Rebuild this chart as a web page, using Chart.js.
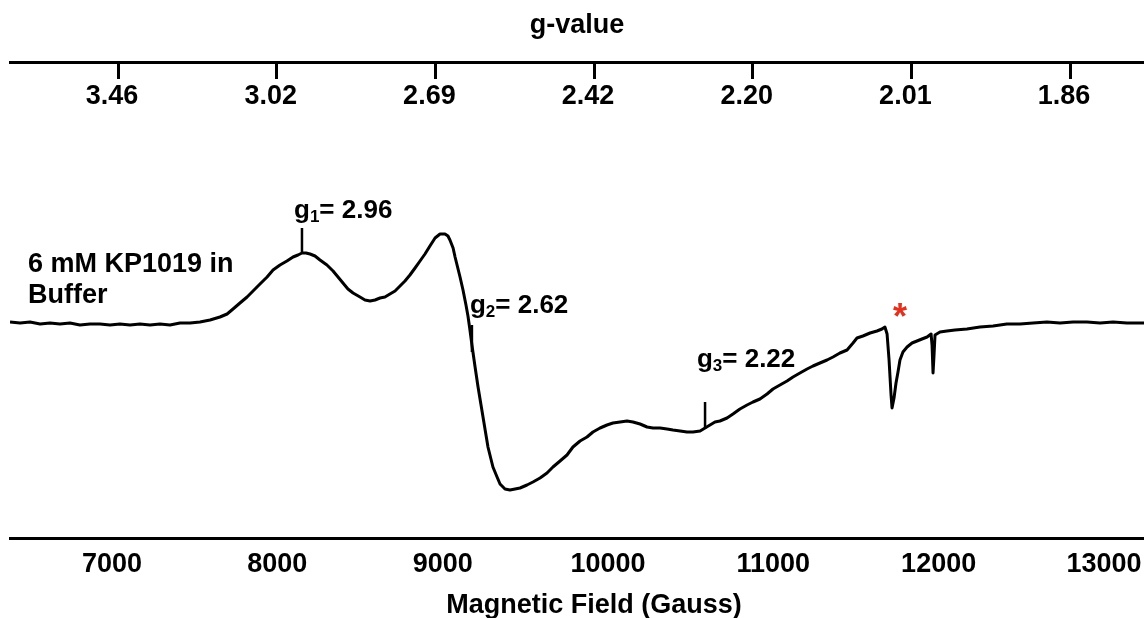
<!DOCTYPE html>
<html>
<head>
<meta charset="utf-8">
<title>EPR spectrum – KP1019</title>
<script src="https://cdn.jsdelivr.net/npm/chart.js@4/dist/chart.umd.min.js"></script>
<style>
  html, body { margin: 0; padding: 0; background: #fff; }
  canvas { display: block; }
</style>
</head>
<body>
<canvas id="epr" width="1144" height="618"></canvas>
<script>
// Magnetic field (G) and first-derivative EPR signal (arb. units)
const fieldGauss = [
  6383, 6444, 6504, 6565, 6625, 6685, 6746, 6806, 6867, 6927, 6988, 7048, 7109, 7169, 7230, 7290,
  7351, 7411, 7472, 7532, 7593, 7653, 7696, 7732, 7774, 7817, 7853, 7895, 7938, 7974, 8016, 8058,
  8095, 8125, 8149, 8173, 8198, 8228, 8258, 8300, 8337, 8367, 8397, 8427, 8458, 8500, 8530, 8561,
  8591, 8621, 8651, 8681, 8712, 8742, 8772, 8802, 8833, 8863, 8893, 8923, 8954, 8984, 9014, 9032,
  9044, 9063, 9075, 9087, 9105, 9123, 9141, 9153, 9165, 9177, 9196, 9214, 9232, 9244, 9262, 9274,
  9292, 9304, 9329, 9347, 9377, 9407, 9438, 9468, 9510, 9546, 9589, 9631, 9667, 9710, 9752, 9788,
  9831, 9873, 9909, 9952, 9994, 10030, 10073, 10115, 10151, 10194, 10236, 10272, 10315, 10357, 10393, 10436,
  10478, 10514, 10557, 10587, 10617, 10647, 10677, 10720, 10756, 10798, 10841, 10877, 10919, 10962, 10998, 11040,
  11083, 11119, 11161, 11204, 11240, 11282, 11325, 11361, 11403, 11446, 11482, 11506, 11542, 11585, 11627, 11657,
  11675, 11688, 11700, 11712, 11718, 11730, 11742, 11754, 11766, 11784, 11809, 11839, 11869, 11899, 11930, 11954,
  11960, 11966, 11972, 11978, 12008, 12050, 12099, 12171, 12250, 12329, 12413, 12492, 12571, 12655, 12734, 12813,
  12897, 12976, 13055, 13139, 13242
];
const signal = [
  0.00, -0.01, 0.00, -0.02, -0.01, -0.02, -0.01, -0.03, -0.02, -0.02, -0.03, -0.02, -0.03, -0.02, -0.03, -0.02,
  -0.03, -0.01, -0.01, 0.00, 0.02, 0.05, 0.08, 0.13, 0.19, 0.25, 0.31, 0.38, 0.45, 0.52, 0.57, 0.61,
  0.65, 0.67, 0.69, 0.69, 0.68, 0.66, 0.62, 0.57, 0.51, 0.45, 0.39, 0.33, 0.29, 0.25, 0.22, 0.21,
  0.22, 0.24, 0.25, 0.28, 0.31, 0.36, 0.41, 0.47, 0.54, 0.61, 0.68, 0.76, 0.84, 0.88, 0.88, 0.86,
  0.82, 0.74, 0.65, 0.57, 0.45, 0.32, 0.17, 0.06, -0.08, -0.23, -0.45, -0.65, -0.83, -0.95, -1.13, -1.25,
  -1.37, -1.45, -1.55, -1.62, -1.67, -1.68, -1.67, -1.66, -1.63, -1.60, -1.56, -1.51, -1.45, -1.39, -1.33, -1.25,
  -1.19, -1.15, -1.10, -1.06, -1.03, -1.01, -1.00, -0.99, -1.00, -1.02, -1.05, -1.06, -1.06, -1.07, -1.08, -1.09,
  -1.10, -1.10, -1.09, -1.06, -1.03, -1.00, -0.99, -0.96, -0.92, -0.87, -0.83, -0.80, -0.77, -0.72, -0.67, -0.63,
  -0.59, -0.55, -0.51, -0.47, -0.44, -0.41, -0.38, -0.35, -0.31, -0.28, -0.21, -0.16, -0.14, -0.11, -0.09, -0.07,
  -0.05, -0.12, -0.38, -0.73, -0.86, -0.76, -0.61, -0.50, -0.38, -0.30, -0.25, -0.21, -0.19, -0.17, -0.15, -0.12,
  -0.23, -0.51, -0.33, -0.13, -0.10, -0.09, -0.08, -0.07, -0.05, -0.04, -0.02, -0.02, -0.01, 0.00, -0.01, 0.00,
  0.00, -0.01, 0.00, -0.01, -0.01
];

// Bottom axis ticks (Gauss)
const fieldTicks = [7000, 8000, 9000, 10000, 11000, 12000, 13000];
// Top axis: g-value labels at evenly spaced tick slots
const gTickSlots = [0, 1, 2, 3, 4, 5, 6];
const gLabels = ['3.46', '3.02', '2.69', '2.42', '2.20', '2.01', '1.86'];

// Assigned g-tensor components: marker field, marker top/bottom signal, label text
const gNames = ['1', '2', '3'];
const gValues = ['2.96', '2.62', '2.22'];
const gMarkField = [8149, 9177, 10587];
const gMarkTop = [0.94, -0.03, -0.80];
const gMarkBottom = [0.70, -0.30, -1.07];
const gLabelField = [8101, 9165, 10538];
const gLabelSignal = [1.04, 0.09, -0.45];

// Impurity line marked with an asterisk
const impurityField = 11766;
const impuritySignal = 0.11;

const sampleLines = ['6 mM KP1019 in', 'Buffer'];
const sampleField = 6492;
const sampleSignal = [0.50, 0.19];

const FONT = '"Liberation Sans", Arial, Helvetica, sans-serif';

const spectrum = fieldGauss.map((b, i) => ({ x: b, y: signal[i] }));
const markerSets = gMarkField.map((b, i) => ({
  data: [{ x: b, y: gMarkTop[i] }, { x: b, y: gMarkBottom[i] }],
  borderColor: '#000',
  borderWidth: 2.5,
  pointRadius: 0,
  borderCapStyle: 'butt'
}));

const annotations = {
  id: 'annotations',
  afterDatasetsDraw(chart) {
    const { ctx, scales: { x, y } } = chart;
    ctx.save();
    ctx.fillStyle = '#000';
    ctx.textBaseline = 'alphabetic';
    ctx.textAlign = 'left';

    // sample description
    ctx.font = 'bold 27px ' + FONT;
    sampleLines.forEach((t, i) => {
      ctx.fillText(t, x.getPixelForValue(sampleField), y.getPixelForValue(sampleSignal[i]));
    });

    // g labels with subscripts
    gNames.forEach((n, i) => {
      let px = x.getPixelForValue(gLabelField[i]);
      const py = y.getPixelForValue(gLabelSignal[i]);
      ctx.font = 'bold 26px ' + FONT;
      ctx.fillText('g', px, py);
      px += ctx.measureText('g').width;
      ctx.font = 'bold 17px ' + FONT;
      ctx.fillText(n, px, py + 4);
      px += ctx.measureText(n).width;
      ctx.font = 'bold 26px ' + FONT;
      ctx.fillText('= ' + gValues[i], px, py);
    });

    // asterisk
    ctx.fillStyle = '#e2311d';
    ctx.textAlign = 'center';
    ctx.textBaseline = 'middle';
    ctx.font = 'bold 36px ' + FONT;
    ctx.fillText('*', x.getPixelForValue(impurityField), y.getPixelForValue(impuritySignal) + 8);

    // bottom axis title
    ctx.fillStyle = '#000';
    ctx.textBaseline = 'alphabetic';
    ctx.font = 'bold 27px ' + FONT;
    ctx.fillText('Magnetic Field (Gauss)', 594, 613);
    ctx.restore();
  }
};

new Chart(document.getElementById('epr'), {
  type: 'line',
  data: {
    datasets: [{
      data: spectrum,
      borderColor: '#000',
      borderWidth: 3,
      pointRadius: 0,
      tension: 0,
      borderJoinStyle: 'round'
    }, ...markerSets]
  },
  options: {
    responsive: false,
    animation: false,
    devicePixelRatio: 1,
    layout: { padding: { left: 10, right: 0, top: 0, bottom: 0 } },
    plugins: { legend: { display: false }, tooltip: { enabled: false } },
    scales: {
      x: {
        type: 'linear',
        position: 'bottom',
        min: 6383,
        max: 13242,
        afterBuildTicks: s => { s.ticks = fieldTicks.map(v => ({ value: v })); },
        afterFit: s => { s.height = 80; },
        ticks: {
          autoSkip: false,
          maxRotation: 0,
          padding: 2,
          color: '#000',
          font: { family: FONT, size: 27, weight: 'bold' },
          callback: v => String(v)
        },
        grid: { display: false },
        border: { display: true, width: 3, color: '#000' }
      },
      x2: {
        type: 'linear',
        position: 'top',
        min: -0.681,
        max: 6.466,
        afterBuildTicks: s => { s.ticks = gTickSlots.map(v => ({ value: v })); },
        afterFit: s => { s.height = 62; },
        ticks: {
          autoSkip: false,
          maxRotation: 0,
          mirror: true,
          padding: 18,
          labelOffset: -6,
          color: '#000',
          font: { family: FONT, size: 27, weight: 'bold' },
          callback: (v, i) => gLabels[i]
        },
        grid: {
          display: true,
          drawOnChartArea: false,
          drawTicks: true,
          tickLength: -17,
          tickWidth: 3,
          tickColor: '#000'
        },
        border: { display: true, width: 3, color: '#000' },
        title: {
          display: true,
          text: 'g-value',
          color: '#000',
          font: { family: FONT, size: 27, weight: 'bold' },
          padding: { top: 9, bottom: 0 }
        }
      },
      y: { display: false, min: -2.16, max: 2.60 }
    }
  },
  plugins: [annotations]
});
</script>
</body>
</html>
